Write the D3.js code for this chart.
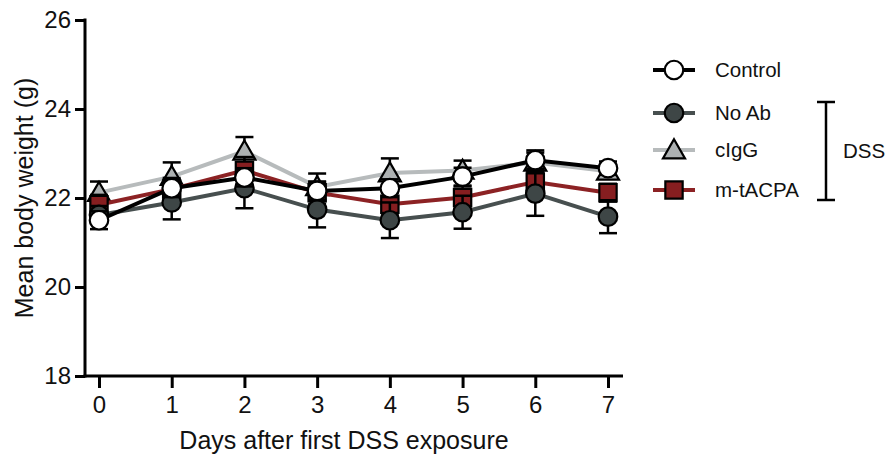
<!DOCTYPE html>
<html>
<head>
    <title>Mean body weight after DSS</title>
    <style>
        body { margin: 0; background: #fff; }
        svg { display: block; background: #fff; }
        text { font-family: "Liberation Sans", Arial, Helvetica, sans-serif; fill: #111; }
        .axis path, .axis line { stroke: #000; stroke-width: 3px; }
        .tick text { font-size: 24px; }
        .title { font-size: 25px; }
        .legend { font-size: 20.5px; }
    </style>
    <script src="https://d3js.org/d3.v7.min.js"></script>
</head>
<body>
    <svg width="886" height="459"></svg>
    <script>
        const days = [0, 1, 2, 3, 4, 5, 6, 7];
        const yTicks = [18, 20, 22, 24, 26];

        const controlMean = [21.5, 22.22, 22.46, 22.16, 22.22, 22.48, 22.85, 22.67];
        const controlErr  = [0.2, 0.2, 0.2, 0.2, 0.2, 0.2, 0.22, 0.15];
        const noAbMean    = [21.62, 21.9, 22.22, 21.74, 21.5, 21.68, 22.1, 21.58];
        const noAbErr     = [0.2, 0.38, 0.45, 0.4, 0.4, 0.37, 0.5, 0.37];
        const cigMean     = [22.12, 22.48, 23.05, 22.25, 22.56, 22.62, 22.8, 22.6];
        const cigErr      = [0.25, 0.32, 0.32, 0.3, 0.33, 0.22, 0.22, 0.15];
        const tacpaMean   = [21.85, 22.2, 22.62, 22.12, 21.86, 22.01, 22.36, 22.12];
        const tacpaErr    = [0.22, 0.25, 0.3, 0.25, 0.25, 0.25, 0.3, 0.2];

        const series = [
            { name: "cIgG", mean: cigMean, err: cigErr, line: "#b7bbbc", fill: "#adb1b2", shape: "triangle" },
            { name: "m-tACPA", mean: tacpaMean, err: tacpaErr, line: "#8c2224", fill: "#861e20", shape: "square" },
            { name: "No Ab", mean: noAbMean, err: noAbErr, line: "#474f4f", fill: "#3e4646", shape: "circle" },
            { name: "Control", mean: controlMean, err: controlErr, line: "#000", fill: "#fff", shape: "circle" }
        ];
        const legendOrder = ["Control", "No Ab", "cIgG", "m-tACPA"];

        const svg = d3.select("svg");
        const x = d3.scaleLinear().domain([0, 7]).range([99, 608]);
        const y = d3.scaleLinear().domain([18, 26]).range([376, 20]);

        function symbolPath(shape) {
            if (shape === "triangle") return d3.symbol(d3.symbolTriangle, 210)();
            if (shape === "square") return d3.symbol(d3.symbolSquare, 300)();
            return d3.symbol(d3.symbolCircle, 270)();
        }

        // Axes
        const yAxis = svg.append("g").attr("class", "axis")
            .attr("transform", "translate(85,0)")
            .call(d3.axisLeft(y).tickValues(yTicks).tickSize(10).tickPadding(4).tickSizeOuter(0));
        yAxis.select(".domain").attr("d", `M0,${y(26) - 1.5}V${y(18) + 1.5}`);

        const xAxis = svg.append("g").attr("class", "axis")
            .attr("transform", `translate(0,${y(18)})`)
            .call(d3.axisBottom(x).tickValues(days).tickFormat(d3.format("d"))
                .tickSize(12).tickPadding(8).tickSizeOuter(0));
        xAxis.select(".domain").attr("d", "M83.5,0H623");

        svg.append("text").attr("class", "title")
            .attr("transform", `translate(33,${y(22)}) rotate(-90)`)
            .attr("text-anchor", "middle")
            .text("Mean body weight (g)");
        svg.append("text").attr("class", "title")
            .attr("x", 344).attr("y", 449)
            .attr("text-anchor", "middle")
            .text("Days after first DSS exposure");

        // Series: error bars, line, markers
        series.forEach(s => {
            const g = svg.append("g");
            const pts = days.map((d, i) => ({ d: d, m: s.mean[i], e: s.err[i] }));
            const eb = g.selectAll(".eb").data(pts).enter().append("g")
                .attr("stroke", "#000").attr("stroke-width", 2.5);
            eb.append("line")
                .attr("x1", p => x(p.d)).attr("x2", p => x(p.d))
                .attr("y1", p => y(p.m + p.e)).attr("y2", p => y(p.m - p.e));
            eb.append("line")
                .attr("x1", p => x(p.d) - 9).attr("x2", p => x(p.d) + 9)
                .attr("y1", p => y(p.m + p.e)).attr("y2", p => y(p.m + p.e));
            eb.append("line")
                .attr("x1", p => x(p.d) - 9).attr("x2", p => x(p.d) + 9)
                .attr("y1", p => y(p.m - p.e)).attr("y2", p => y(p.m - p.e));

            g.append("path")
                .datum(pts)
                .attr("fill", "none")
                .attr("stroke", s.line)
                .attr("stroke-width", 4)
                .attr("d", d3.line().x(p => x(p.d)).y(p => y(p.m)));

            g.selectAll(".mk").data(pts).enter().append("path")
                .attr("transform", p => `translate(${x(p.d)},${y(p.m) + (s.shape === "triangle" ? 2 : 0)})`)
                .attr("d", symbolPath(s.shape))
                .attr("fill", s.fill)
                .attr("stroke", "#000")
                .attr("stroke-width", 2.2);
        });

        // Legend
        const legendY = [70, 113, 150, 190];
        legendOrder.forEach((name, i) => {
            const s = series.find(t => t.name === name);
            const g = svg.append("g").attr("transform", `translate(674,${legendY[i]})`);
            g.append("line").attr("x1", -21).attr("x2", 21)
                .attr("stroke", s.line).attr("stroke-width", 4);
            g.append("path").attr("d", symbolPath(s.shape))
                .attr("transform", s.shape === "triangle" ? "translate(0,2)" : null)
                .attr("fill", s.fill).attr("stroke", "#000").attr("stroke-width", 2.2);
            g.append("text").attr("class", "legend")
                .attr("x", 41).attr("y", 7).text(name);
        });

        // DSS bracket
        const br = svg.append("g").attr("stroke", "#000").attr("stroke-width", 2.5);
        br.append("line").attr("x1", 826).attr("x2", 826).attr("y1", 102).attr("y2", 200);
        br.append("line").attr("x1", 817).attr("x2", 835).attr("y1", 102).attr("y2", 102);
        br.append("line").attr("x1", 817).attr("x2", 835).attr("y1", 200).attr("y2", 200);
        svg.append("text").attr("class", "legend")
            .attr("x", 843).attr("y", 158).text("DSS");
    </script>
</body>
</html>
